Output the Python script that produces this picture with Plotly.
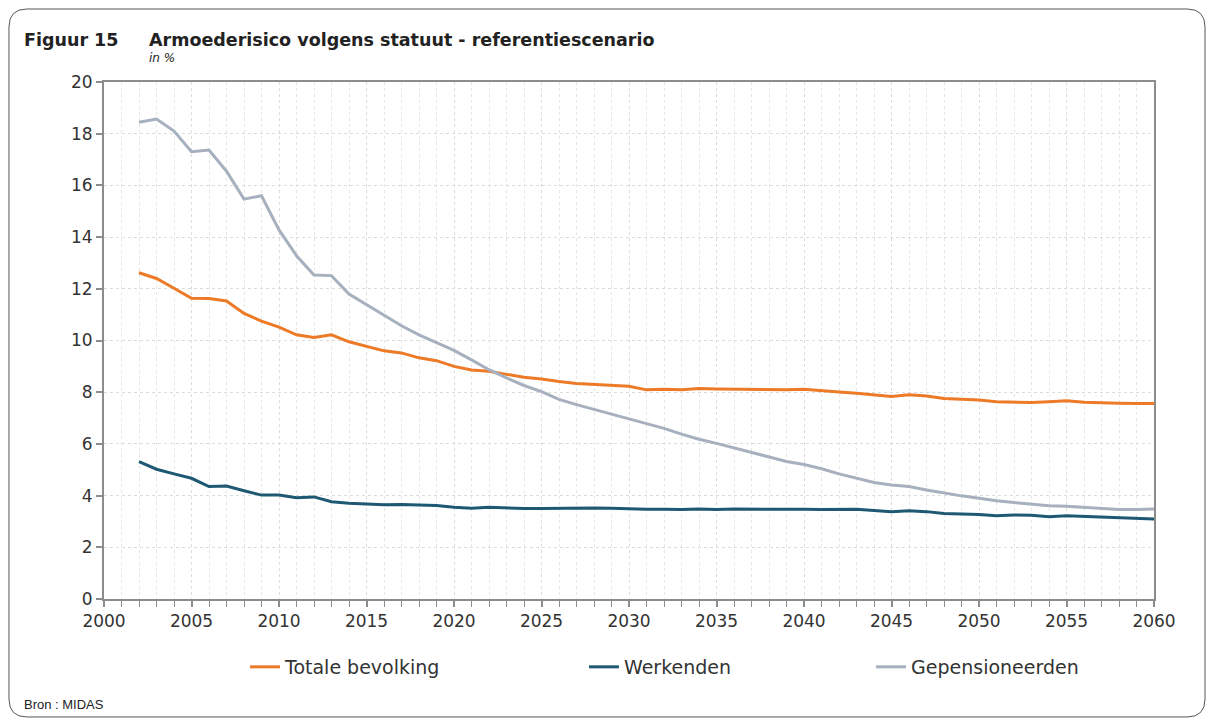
# Plotting libraries
import plotly.graph_objects as go

# Data (in %)
years = list(range(2002, 2061))

totale_bevolking = [
    12.62, 12.40, 12.02, 11.63, 11.62, 11.53, 11.05, 10.75, 10.52, 10.22,
    10.12, 10.22, 9.95, 9.78, 9.60, 9.52, 9.33, 9.22, 9.00, 8.86,
    8.81, 8.69, 8.58, 8.51, 8.41, 8.34, 8.30, 8.25, 8.23, 8.09,
    8.11, 8.09, 8.14, 8.12, 8.11, 8.11, 8.10, 8.09, 8.11, 8.05,
    8.01, 7.96, 7.89, 7.83, 7.90, 7.85, 7.76, 7.72, 7.70, 7.63,
    7.61, 7.60, 7.63, 7.67, 7.61, 7.58, 7.57, 7.56, 7.56,
]

werkenden = [
    5.31, 5.02, 4.84, 4.67, 4.35, 4.37, 4.19, 4.02, 4.02, 3.92,
    3.95, 3.76, 3.70, 3.67, 3.65, 3.66, 3.64, 3.62, 3.55, 3.51,
    3.55, 3.52, 3.50, 3.50, 3.51, 3.51, 3.52, 3.51, 3.48, 3.47,
    3.47, 3.46, 3.48, 3.46, 3.48, 3.48, 3.48, 3.49, 3.47, 3.46,
    3.46, 3.47, 3.42, 3.38, 3.41, 3.38, 3.31, 3.29, 3.27, 3.22,
    3.25, 3.24, 3.18, 3.22, 3.19, 3.16, 3.15, 3.12, 3.09,
]

gepensioneerden = [
    18.44, 18.57, 18.10, 17.30, 17.37, 16.55, 15.47, 15.60, 14.28, 13.28,
    12.53, 12.51, 11.80, 11.40, 10.98, 10.57, 10.22, 9.92, 9.62, 9.25,
    8.87, 8.55, 8.26, 8.02, 7.72, 7.52, 7.33, 7.15, 6.95, 6.77,
    6.60, 6.38, 6.18, 6.02, 5.85, 5.66, 5.48, 5.32, 5.20, 5.04,
    4.84, 4.66, 4.51, 4.41, 4.35, 4.22, 4.10, 3.99, 3.90, 3.80,
    3.73, 3.66, 3.61, 3.59, 3.54, 3.50, 3.46, 3.46, 3.48,
]

series_names = ['Totale bevolking', 'Werkenden', 'Gepensioneerden']
series_colors = ['#EC7A26', '#1E5873', '#A7B0BE']

FONT = 'DejaVu Sans'
AXIS_COLOR = '#8c8c8c'
GRID_COLOR = '#dcdcdc'


def plot_armoede():
    """
    Returns the poverty risk chart as a plotly figure
    """
    fig = go.Figure()

    series = [totale_bevolking, werkenden, gepensioneerden]
    legends = ['legend', 'legend2', 'legend3']
    for name, values, color, leg in zip(series_names, series, series_colors, legends):
        fig.add_trace(
            go.Scatter(
                x=years,
                y=values,
                name=name,
                mode='lines',
                line=dict(color=color, width=3),
                legend=leg,
                showlegend=True
            )
        )

    legend_style = dict(
        orientation='h',
        yanchor='middle',
        y=-0.1315,
        xanchor='left',
        bgcolor='rgba(0,0,0,0)',
        font=dict(family=FONT, size=19, color='#333333')
    )

    # the page body adds an 8px offset, so the figure is a bit smaller
    fig.update_layout(
        width=1199,
        height=711,
        margin=dict(l=96, r=53, t=74, b=120),
        paper_bgcolor='white',
        plot_bgcolor='white',
        showlegend=True,
        font=dict(family=FONT, color='#333333'),
        legend=dict(x=0.1343, **legend_style),
        legend2=dict(x=0.4571, **legend_style),
        legend3=dict(x=0.7305, **legend_style),
    )

    fig.update_xaxes(
        range=[2000, 2060],
        dtick=5,
        tick0=2000,
        ticks='outside',
        ticklen=6,
        tickwidth=2,
        tickcolor=AXIS_COLOR,
        tickfont=dict(family=FONT, size=17, color='#333333'),
        showline=True,
        linecolor=AXIS_COLOR,
        linewidth=2,
        mirror=True,
        showgrid=True,
        gridcolor=GRID_COLOR,
        griddash='dot',
        gridwidth=1,
        zeroline=False,
        minor=dict(
            dtick=1,
            ticks='outside',
            ticklen=6,
            tickwidth=1,
            tickcolor=AXIS_COLOR,
            showgrid=True,
            gridcolor='#e6e6e6',
            griddash='dot'
        )
    )

    fig.update_yaxes(
        range=[0, 20],
        dtick=2,
        ticks='outside',
        ticklen=6,
        tickwidth=2,
        tickcolor=AXIS_COLOR,
        tickfont=dict(family=FONT, size=17, color='#333333'),
        showline=True,
        linecolor=AXIS_COLOR,
        linewidth=2,
        mirror=True,
        showgrid=True,
        gridcolor=GRID_COLOR,
        griddash='dot',
        zeroline=False
    )

    # titles
    fig.add_annotation(
        text='<b>Figuur 15</b>', xref='paper', yref='paper',
        x=-0.0781, y=1.0812, xanchor='left', yanchor='middle',
        showarrow=False, font=dict(family=FONT, size=17.5, color='#222222')
    )
    fig.add_annotation(
        text='<b>Armoederisico volgens statuut - referentiescenario</b>',
        xref='paper', yref='paper',
        x=0.041, y=1.0812, xanchor='left', yanchor='middle',
        showarrow=False, font=dict(family=FONT, size=17.5, color='#222222')
    )
    fig.add_annotation(
        text='<i>in %</i>', xref='paper', yref='paper',
        x=0.041, y=1.0464, xanchor='left', yanchor='middle',
        showarrow=False, font=dict(family=FONT, size=12, color='#222222')
    )
    fig.add_annotation(
        text='Bron : MIDAS', xref='paper', yref='paper',
        x=-0.0781, y=-0.205, xanchor='left', yanchor='middle',
        showarrow=False, font=dict(family='Liberation Sans', size=13, color='#222222')
    )

    # rounded frame around the figure
    left, right, top, bottom = -0.0905, 1.0486, 1.1412, -0.2282
    rx, ry = 0.0171, 0.0348
    path = (
        f'M {left + rx},{top} L {right - rx},{top} '
        f'Q {right},{top} {right},{top - ry} '
        f'L {right},{bottom + ry} Q {right},{bottom} {right - rx},{bottom} '
        f'L {left + rx},{bottom} Q {left},{bottom} {left},{bottom + ry} '
        f'L {left},{top - ry} Q {left},{top} {left + rx},{top} Z'
    )
    fig.add_shape(
        type='path', path=path, xref='paper', yref='paper',
        line=dict(color='#555555', width=1), layer='below'
    )

    return fig


fig = plot_armoede()
fig.write_html('out.html')
